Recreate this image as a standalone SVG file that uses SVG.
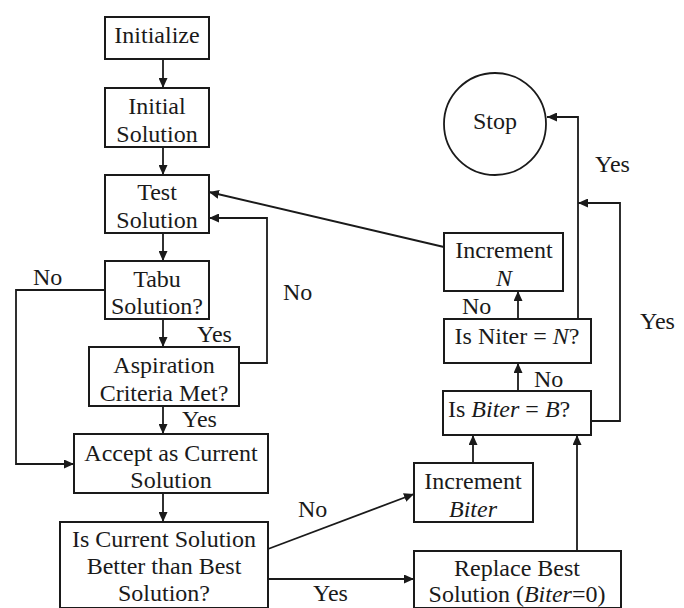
<svg xmlns="http://www.w3.org/2000/svg" width="684" height="608" viewBox="0 0 684 608" font-family="Liberation Serif, serif">
  <style>
    .box { fill: #ffffff; stroke: #1a1a1a; stroke-width: 2; }
    .t { font-size: 24px; fill: #1a1a1a; }
    .c { text-anchor: middle; }
    .i { font-style: italic; }
    .ln { fill: none; stroke: #1a1a1a; stroke-width: 1.8; }
  </style>
  <defs>
    <marker id="arr" markerUnits="userSpaceOnUse" markerWidth="10" markerHeight="9" refX="10" refY="4.5" orient="auto">
      <path d="M0,0 L10,4.5 L0,9 z" fill="#1a1a1a"/>
    </marker>
  </defs>
  <rect width="684" height="608" fill="#ffffff"/>

  <!-- connectors and their labels -->
  <g id="connectors" font-family="Liberation Serif">
    <path class="ln" d="M163,59 V88" marker-end="url(#arr)"/>
    <path class="ln" d="M163,147 V175" marker-end="url(#arr)"/>
    <path class="ln" d="M163,233 V261" marker-end="url(#arr)"/>
    <path class="ln" d="M163,319 V347" marker-end="url(#arr)"/>
    <path class="ln" d="M163,406 V434" marker-end="url(#arr)"/>
    <path class="ln" d="M163,493 V522" marker-end="url(#arr)"/>
    <path class="ln" d="M105,290 H16 V464 H74" marker-end="url(#arr)"/>
    <path class="ln" d="M239,363 H267 V218 H209" marker-end="url(#arr)"/>
    <path class="ln" d="M444,247 L209,192" marker-end="url(#arr)"/>
    <path class="ln" d="M268,549 L414,494" marker-end="url(#arr)"/>
    <path class="ln" d="M268,579 H414" marker-end="url(#arr)"/>
    <path class="ln" d="M473,463 V435" marker-end="url(#arr)"/>
    <path class="ln" d="M577,551 V435" marker-end="url(#arr)"/>
    <path class="ln" d="M518,391 V363" marker-end="url(#arr)"/>
    <path class="ln" d="M518,319 V291" marker-end="url(#arr)"/>
    <path class="ln" d="M578,319 V117 H547" marker-end="url(#arr)"/>
    <path class="ln" d="M591,421 H620 V203 H578" marker-end="url(#arr)"/>

    <text class="t" x="33" y="285">No</text>
    <text class="t" x="283" y="300">No</text>
    <text class="t" x="197" y="342">Yes</text>
    <text class="t" x="182" y="427">Yes</text>
    <text class="t" x="298" y="517">No</text>
    <text class="t" x="313" y="601">Yes</text>
    <text class="t" x="595" y="172">Yes</text>
    <text class="t" x="640" y="329">Yes</text>
    <text class="t" x="534" y="387">No</text>
    <text class="t" x="462" y="314">No</text>
  </g>

  <g id="nodes" font-family="Liberation Serif">
    <g id="initialize">
      <rect class="box" x="105" y="17" width="104" height="42"/>
      <text class="t c" x="157" y="43">Initialize</text>
    </g>
    <g id="initial-solution">
      <rect class="box" x="105" y="88" width="104" height="59"/>
      <text class="t c" x="157" y="114">Initial</text>
      <text class="t c" x="157" y="142">Solution</text>
    </g>
    <g id="test-solution">
      <rect class="box" x="105" y="175" width="104" height="58"/>
      <text class="t c" x="157" y="200">Test</text>
      <text class="t c" x="157" y="228">Solution</text>
    </g>
    <g id="tabu-solution">
      <rect class="box" x="105" y="261" width="104" height="58"/>
      <text class="t c" x="157" y="287">Tabu</text>
      <text class="t c" x="157" y="314">Solution?</text>
    </g>
    <g id="aspiration">
      <rect class="box" x="89" y="347" width="150" height="59"/>
      <text class="t c" x="164" y="373">Aspiration</text>
      <text class="t c" x="164" y="401">Criteria Met?</text>
    </g>
    <g id="accept-current">
      <rect class="box" x="74" y="434" width="194" height="59"/>
      <text class="t c" x="171" y="461">Accept as Current</text>
      <text class="t c" x="171" y="488">Solution</text>
    </g>
    <g id="is-current-better">
      <rect class="box" x="60" y="522" width="208" height="86"/>
      <text class="t c" x="164" y="547">Is Current Solution</text>
      <text class="t c" x="164" y="574">Better than Best</text>
      <text class="t c" x="164" y="601">Solution?</text>
    </g>
    <g id="stop">
      <circle cx="495" cy="124" r="51" fill="#ffffff" stroke="#1a1a1a" stroke-width="1.8"/>
      <text class="t c" x="495" y="129">Stop</text>
    </g>
    <g id="increment-n">
      <rect class="box" x="444" y="233" width="119" height="58"/>
      <text class="t c" x="504" y="258">Increment</text>
      <text class="t c i" x="504" y="286">N</text>
    </g>
    <g id="is-niter-n">
      <rect class="box" x="444" y="319" width="147" height="44"/>
      <text class="t c" x="517" y="344">Is Niter = <tspan class="i">N</tspan>?</text>
    </g>
    <g id="is-biter-b">
      <rect class="box" x="443" y="391" width="148" height="44"/>
      <text class="t" x="448" y="417">Is <tspan class="i">Biter</tspan> = <tspan class="i">B</tspan>?</text>
    </g>
    <g id="increment-biter">
      <rect class="box" x="414" y="463" width="119" height="59"/>
      <text class="t c" x="473" y="489">Increment</text>
      <text class="t c i" x="473" y="517">Biter</text>
    </g>
    <g id="replace-best">
      <rect class="box" x="414" y="551" width="207" height="57"/>
      <text class="t c" x="517" y="576">Replace Best</text>
      <text class="t c" x="517" y="602">Solution (<tspan class="i">Biter</tspan>=0)</text>
    </g>
  </g>
</svg>
